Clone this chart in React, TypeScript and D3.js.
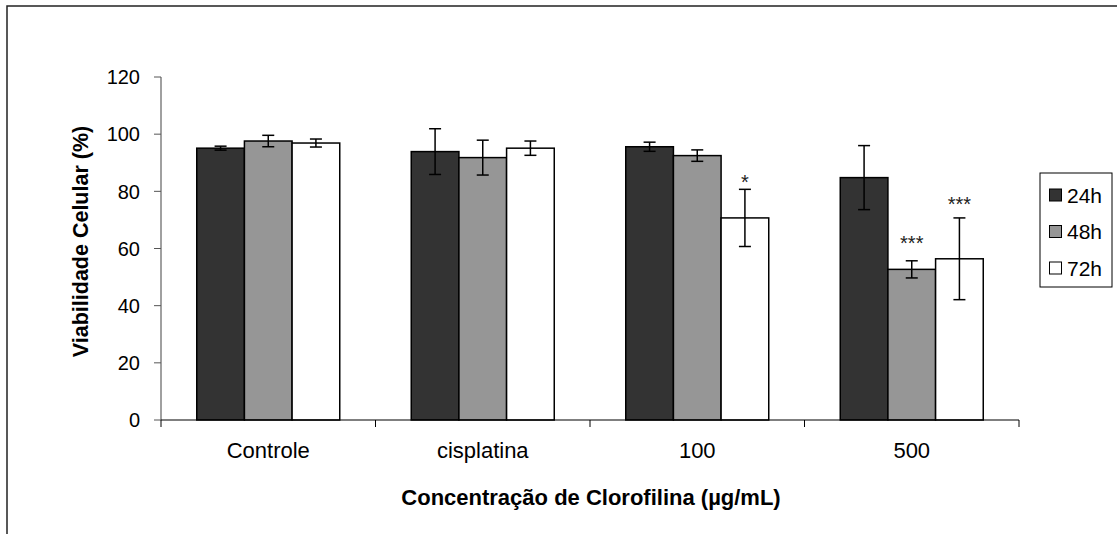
import React from "react";
import * as d3 from "d3";

const categories = ["Controle", "cisplatina", "100", "500"];
const seriesNames = ["24h", "48h", "72h"];
const values24 = [95.1, 93.9, 95.6, 84.8];
const values48 = [97.6, 91.8, 92.5, 52.7];
const values72 = [96.9, 95.1, 70.7, 56.4];
const errors24 = [0.7, 8.0, 1.6, 11.2];
const errors48 = [2.0, 6.1, 2.0, 3.0];
const errors72 = [1.4, 2.5, 10.0, 14.3];
// significance marks: [categoryIndex, seriesIndex, label, y-value of label centre]
const sigMarks: [number, number, string, number][] = [
  [2, 2, "*", 84.7],
  [3, 1, "***", 63.3],
  [3, 2, "***", 77.0],
];
const yTicks = [0, 20, 40, 60, 80, 100, 120];
const colors = ["#333333", "#969696", "#ffffff"];

const FONT = "'Liberation Sans', Arial, sans-serif";

export default function App() {
  const W = 1117, H = 534;
  const left = 161, right = 1019, top = 77, bottom = 420;
  const y = d3.scaleLinear().domain([0, 120]).range([bottom, top]);
  const x0 = d3.scaleBand<string>().domain(categories).range([left, right]).paddingInner(0).paddingOuter(0);
  const bw = x0.bandwidth() / 4.5;
  const vals = [values24, values48, values72];
  const errs = [errors24, errors48, errors72];

  const barX = (ci: number, si: number) => (x0(categories[ci]) as number) + bw * 0.75 + si * bw;

  return (
    <svg width={W} height={H} style={{ position: "absolute", left: 0, top: 0 }} fontFamily={FONT}>
      <rect x={0} y={0} width={W} height={H} fill="#fff" />
      <rect x={7} y={6} width={1200} height={600} fill="none" stroke="#222" strokeWidth={1.5} />
      {/* y axis */}
      <line x1={left} x2={left} y1={top} y2={bottom} stroke="#808080" strokeWidth={1.5} />
      {yTicks.map((t) => (
        <g key={t}>
          <line x1={left - 7} x2={left} y1={y(t)} y2={y(t)} stroke="#555" strokeWidth={1} />
          <text x={140} y={y(t)} dy="0.36em" textAnchor="end" fontSize={20} fill="#000">{t}</text>
        </g>
      ))}
      {/* bars */}
      {categories.map((c, ci) =>
        seriesNames.map((s, si) => {
          const v = vals[si][ci];
          const e = errs[si][ci];
          const bx = barX(ci, si);
          const cx = bx + bw / 2;
          return (
            <g key={c + s}>
              <rect x={bx} y={y(v)} width={bw} height={bottom - y(v)} fill={colors[si]} stroke="#000" strokeWidth={1.5} />
              <line x1={cx} x2={cx} y1={y(v + e)} y2={y(v - e)} stroke="#000" strokeWidth={1.5} />
              <line x1={cx - 6} x2={cx + 6} y1={y(v + e)} y2={y(v + e)} stroke="#000" strokeWidth={1.5} />
              <line x1={cx - 6} x2={cx + 6} y1={y(v - e)} y2={y(v - e)} stroke="#000" strokeWidth={1.5} />
            </g>
          );
        })
      )}
      {sigMarks.map(([ci, si, label, yv], i) => (
        <text key={i} x={barX(ci, si) + bw / 2} y={y(yv)} dy="0.55em" textAnchor="middle" fontSize={20} fill="#222">{label}</text>
      ))}
      {/* x axis */}
      <line x1={left} x2={right} y1={bottom} y2={bottom} stroke="#000" strokeWidth={1.2} />
      {[...categories.map((c) => x0(c) as number), right].map((tx, i) => (
        <line key={i} x1={tx} x2={tx} y1={bottom} y2={bottom + 7} stroke="#000" strokeWidth={1} />
      ))}
      {categories.map((c) => (
        <text key={c} x={(x0(c) as number) + x0.bandwidth() / 2} y={458} textAnchor="middle" fontSize={22} fill="#000">{c}</text>
      ))}
      <text x={591} y={505} textAnchor="middle" fontSize={22} fontWeight="bold" fill="#000">Concentração de Clorofilina (µg/mL)</text>
      <text transform={`translate(88, 241.5) rotate(-90)`} textAnchor="middle" fontSize={21.5} fontWeight="bold" fill="#000">Viabilidade Celular (%)</text>
      {/* legend */}
      <rect x={1040} y={173} width={72} height={114} fill="#fff" stroke="#000" strokeWidth={1} />
      {seriesNames.map((s, si) => (
        <g key={s}>
          <rect x={1049.5} y={189 + si * 36.5} width={12} height={12} fill={colors[si]} stroke="#000" strokeWidth={1} />
          <text x={1067} y={195 + si * 36.5} dy="0.36em" fontSize={21} fill="#000">{s}</text>
        </g>
      ))}
    </svg>
  );
}
